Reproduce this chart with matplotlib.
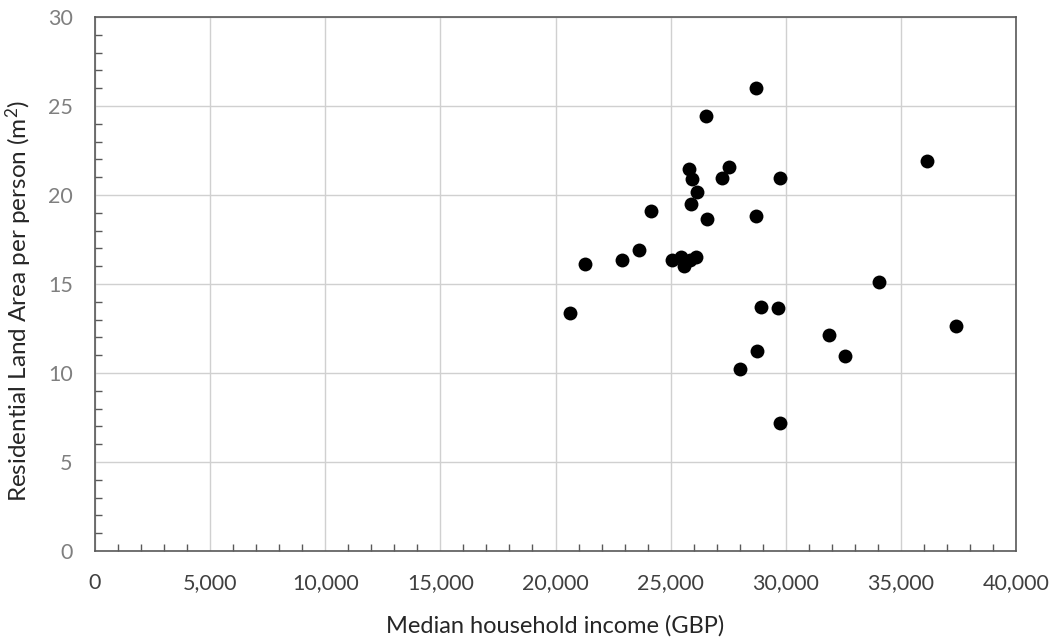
import numpy as np
import matplotlib
matplotlib.use("Agg")
import matplotlib.pyplot as plt
from matplotlib.ticker import FuncFormatter, MultipleLocator

# median household income (GBP) and residential land area per person (m2)
income = [20610, 21260, 22900, 23620, 24160, 25040, 25440, 25590, 25830, 26100,
          25810, 25940, 26160, 25900, 26520, 26570, 27220, 27550, 28710, 28710,
          29750, 28910, 29670, 28770, 28000, 29750, 31900, 32570, 34060, 36150,
          37390]
land_area = [13.35, 16.11, 16.33, 16.91, 19.10, 16.33, 16.53, 16.03, 16.35, 16.53,
             21.46, 20.90, 20.19, 19.49, 24.46, 18.64, 20.94, 21.57, 26.01, 18.82,
             20.94, 13.73, 13.67, 11.25, 10.21, 7.21, 12.15, 10.97, 15.11, 21.91,
             12.64]

x_label = "Median household income (GBP)"
y_label = "Residential Land Area per person (m$^2$)"

plt.rcParams["font.family"] = ["Lato", "DejaVu Sans"]
plt.rcParams["mathtext.fontset"] = "custom"
plt.rcParams["mathtext.rm"] = "Lato"
plt.rcParams["mathtext.it"] = "Lato"
plt.rcParams["mathtext.default"] = "rm"

fig = plt.figure(figsize=(10.51, 6.42), dpi=100)
ax = fig.add_axes([95 / 1051, 1 - 551 / 642, 921 / 1051, 534 / 642])

ax.scatter(income, land_area, s=100, c="black", zorder=3, linewidths=0)

ax.set_xlim(0, 40000)
ax.set_ylim(0, 30)
ax.xaxis.set_major_locator(MultipleLocator(5000))
ax.xaxis.set_minor_locator(MultipleLocator(1000))
ax.yaxis.set_major_locator(MultipleLocator(5))
ax.yaxis.set_minor_locator(MultipleLocator(1))
ax.xaxis.set_major_formatter(FuncFormatter(lambda v, p: f"{int(v):,}"))

ax.grid(True, which="major", color="#d0d0d0", linewidth=1.0, zorder=0)
ax.set_axisbelow(True)
for s in ax.spines.values():
    s.set_color("#595959")
    s.set_linewidth(1.2)

ax.tick_params(which="major", length=0)
ax.tick_params(which="minor", direction="in", length=5, width=1, color="#595959")
ax.tick_params(axis="x", which="major", labelsize=15.5, labelcolor="#404040", pad=16)
ax.tick_params(axis="y", which="major", labelsize=15.5, labelcolor="#7f7f7f", pad=16)

ax.set_xlabel(x_label, fontsize=17, color="#262626", labelpad=16)
ax.set_ylabel(y_label, fontsize=17.5, color="#262626")
ax.yaxis.set_label_coords(-0.066, 0.468)

fig.savefig("out.png", dpi=100)
